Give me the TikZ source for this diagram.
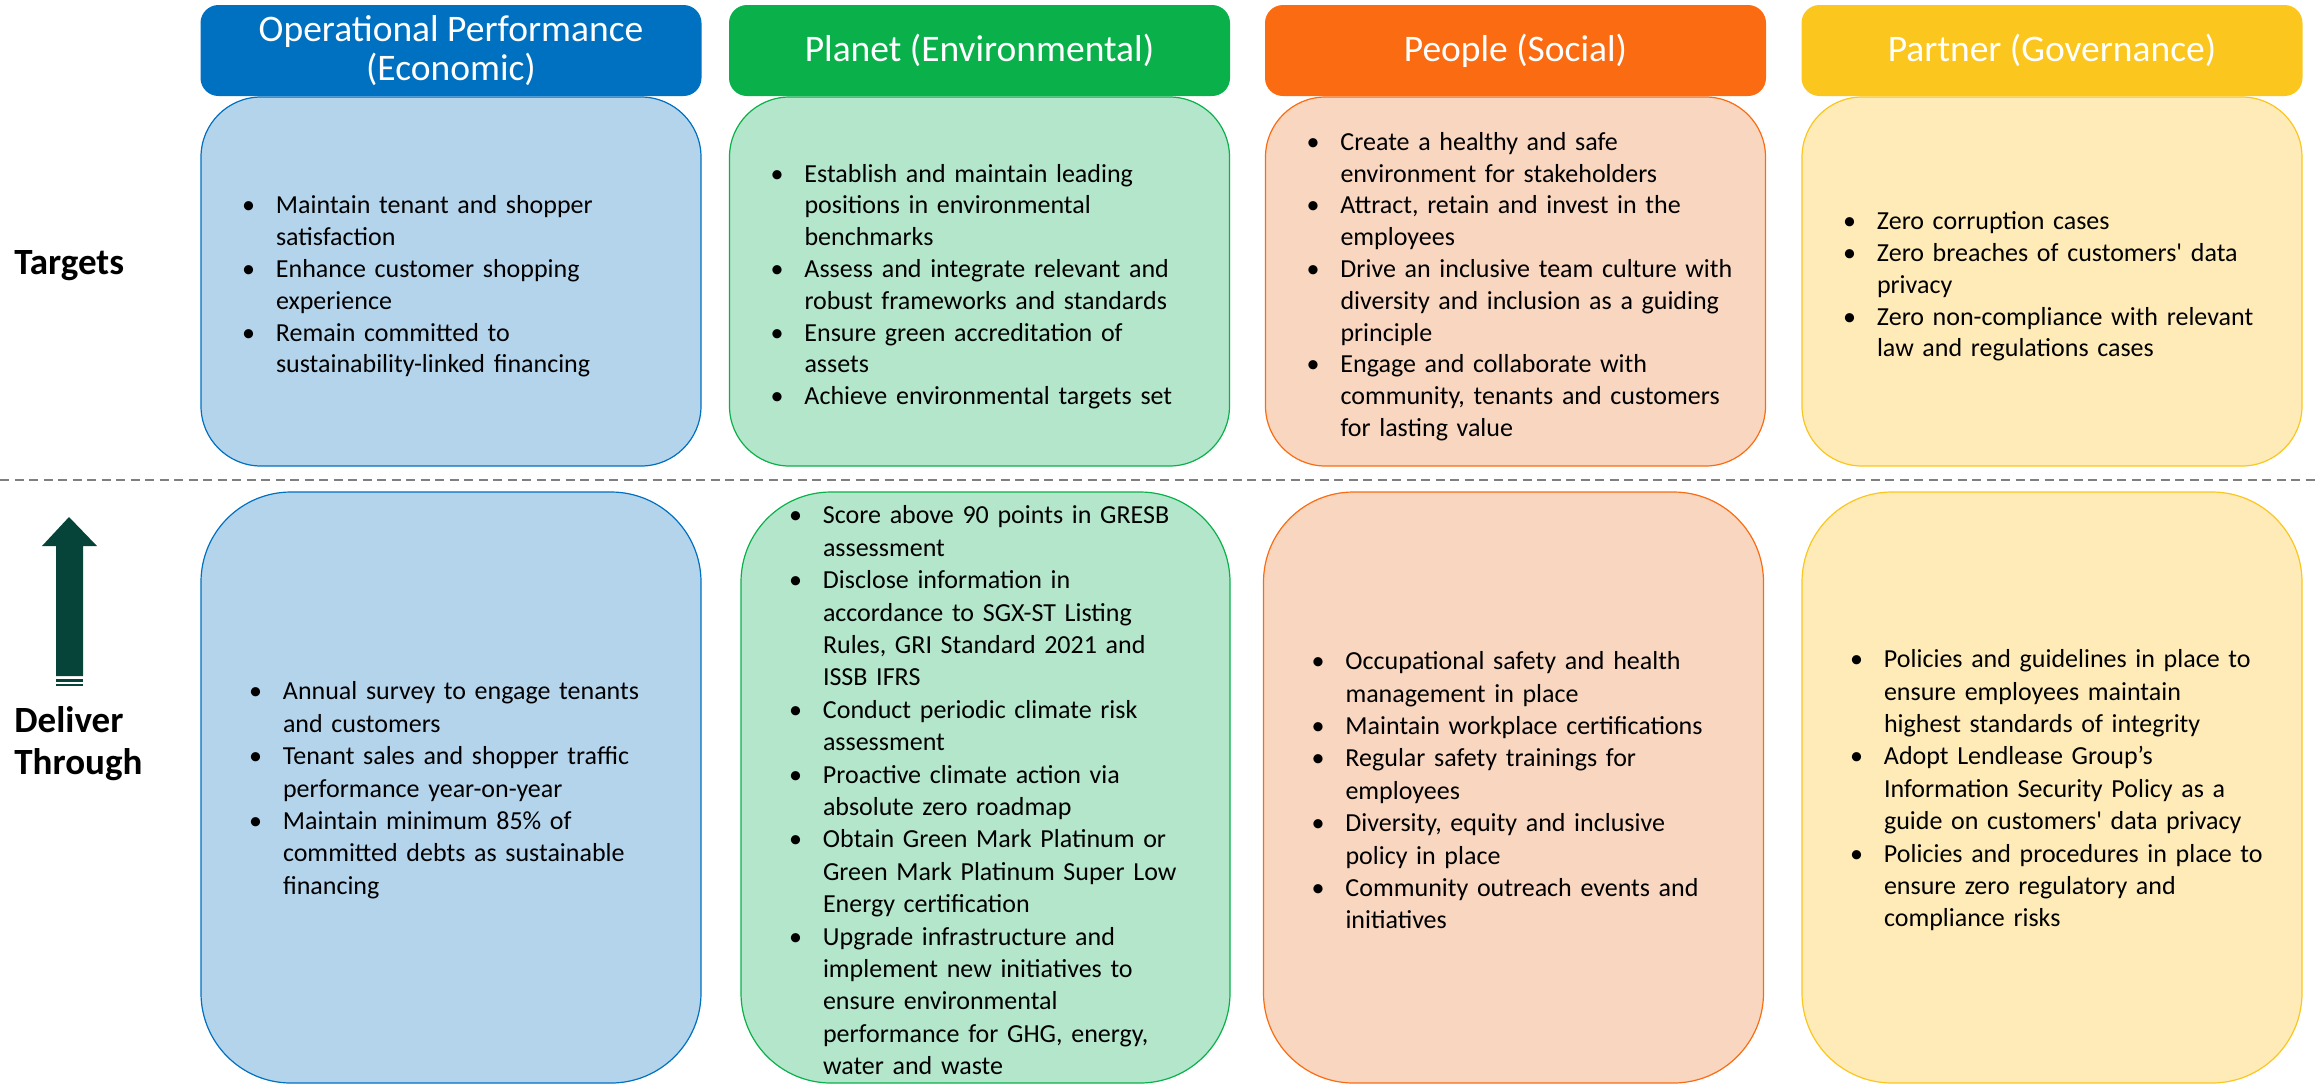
\documentclass[tikz,border=0pt]{standalone}
\usepackage{fontspec}
\setmainfont{Carlito}
\usepackage{tikz}
\usetikzlibrary{positioning}

\definecolor{ecoDark}{HTML}{0070C0}
\definecolor{ecoLight}{HTML}{B4D4EC}
\definecolor{envDark}{HTML}{0AB14B}
\definecolor{envLight}{HTML}{B3E6CB}
\definecolor{socDark}{HTML}{FB6C12}
\definecolor{socLight}{HTML}{F8D6BF}
\definecolor{govDark}{HTML}{FBC61D}
\definecolor{govLight}{HTML}{FEEBB7}
\definecolor{arrowGreen}{HTML}{06443A}
\definecolor{sepGray}{HTML}{7F7F7F}

% one bullet point with hanging indent (lines may run a little into the margin)
\newcommand{\bul}[1]{\hangindent=17pt\hangafter=1\rightskip=0pt plus 1fil minus 30pt%
	\noindent\hbox to 17pt{\textbullet\hss}#1\par}

\begin{document}
\begin{tikzpicture}[x=0.5pt,y=-0.5pt]
			\tikzset{head/.style = {shape=rectangle, rounded corners=9pt,
					minimum width=250.5pt, minimum height=45.5pt, inner sep=0pt,
					text=white, align=center, font=\fontsize{18.75}{19.5}\selectfont}}
			\tikzset{card/.style = {shape=rectangle, rounded corners=30pt,
					line width=0.6pt, minimum width=250pt, minimum height=184.5pt,
					inner sep=0pt, align=left, text width=209pt,
					font=\fontsize{13}{15.9}\selectfont,
					execute at end node={\vspace{-5pt}}}}
			\tikzset{tallcard/.style = {card, rounded corners=45pt,
					minimum height=295.5pt, text width=202pt,
					font=\fontsize{13}{16.2}\selectfont,
					execute at end node={\vspace{2.2pt}}}}
			\tikzset{side/.style = {anchor=west, inner sep=0pt, align=left,
					font=\fontsize{18.5}{21}\selectfont\bfseries}}
			
			\useasboundingbox (0,0) rectangle (2315,1084);
			
			% targets row
			\node[card, fill=ecoLight, draw=ecoDark] (tEco) at (451,281.5) {%
				\bul{Maintain tenant and shopper\newline satisfaction}
				\bul{Enhance customer shopping\newline experience}
				\bul{Remain committed to\newline sustainability-linked financing}};
			\node[card, fill=envLight, draw=envDark] (tEnv) at (979.5,281.5) {%
				\bul{Establish and maintain leading\newline positions in environmental\newline benchmarks}
				\bul{Assess and integrate relevant and\newline robust frameworks and standards}
				\bul{Ensure green accreditation of\newline assets}
				\bul{Achieve environmental targets set}};
			\node[card, fill=socLight, draw=socDark] (tSoc) at (1515.5,281.5) {%
				\bul{Create a healthy and safe\newline environment for stakeholders}
				\bul{Attract, retain and invest in the\newline employees}
				\bul{Drive an inclusive team culture with\newline diversity and inclusion as a guiding\newline principle}
				\bul{Engage and collaborate with\newline community, tenants and customers\newline for lasting value}};
			\node[card, fill=govLight, draw=govDark] (tGov) at (2052,281.5) {%
				\bul{Zero corruption cases}
				\bul{Zero breaches of customers\textquotesingle{} data\newline privacy}
				\bul{Zero non-compliance with relevant\newline law and regulations cases}};
			
			% headers
			\node[head, fill=ecoDark, above=0pt of tEco] (hEco) {Operational Performance\\(Economic)};
			\node[head, fill=envDark, above=0pt of tEnv] (hEnv) {Planet (Environmental)};
			\node[head, fill=socDark, above=0pt of tSoc] (hSoc) {People (Social)};
			\node[head, fill=govDark, above=0pt of tGov] (hGov) {Partner (Governance)};
			
			% separator
			\coordinate (sepL) at (0,480);
			\coordinate (sepR) at (2315,480);
			\draw[sepGray, line width=1.4pt, dash pattern=on 4.5pt off 2.75pt] (sepL) -- (sepR);
			
			% deliver row
			\node[tallcard, fill=ecoLight, draw=ecoDark] (dEco) at (451,787.5) {%
				\bul{Annual survey to engage tenants\newline and customers}
				\bul{Tenant sales and shopper traffic\newline performance year-on-year}
				\bul{Maintain minimum 85\% of\newline committed debts as sustainable\newline financing}};
			\node[tallcard, fill=envLight, draw=envDark, minimum width=244.5pt,
				text width=196.5pt] (dEnv) at (985.5,787.5) {%
				\bul{Score above 90 points in GRESB\newline assessment}
				\bul{Disclose information in\newline accordance to SGX-ST Listing\newline Rules, GRI Standard 2021 and\newline ISSB IFRS}
				\bul{Conduct periodic climate risk\newline assessment}
				\bul{Proactive climate action via\newline absolute zero roadmap}
				\bul{Obtain Green Mark Platinum or\newline Green Mark Platinum Super Low\newline Energy certification}
				\bul{Upgrade infrastructure and\newline implement new initiatives to\newline ensure environmental\newline performance for GHG, energy,\newline water and waste}};
			\node[tallcard, fill=socLight, draw=socDark] (dSoc) at (1513.5,787.5) {%
				\bul{Occupational safety and health\newline management in place}
				\bul{Maintain workplace certifications}
				\bul{Regular safety trainings for\newline employees}
				\bul{Diversity, equity and inclusive\newline policy in place}
				\bul{Community outreach events and\newline initiatives}};
			\node[tallcard, fill=govLight, draw=govDark] (dGov) at (2052,787.5) {%
				\bul{Policies and guidelines in place to\newline ensure employees maintain\newline highest standards of integrity}
				\bul{Adopt Lendlease Group’s\newline Information Security Policy as a\newline guide on customers\textquotesingle{} data privacy}
				\bul{Policies and procedures in place to\newline ensure zero regulatory and\newline compliance risks}};
			
			% row labels
			\node[side] (lblT) at (14,266) {Targets};
			\node[side] (lblD) at (14,744) {Deliver\\Through};
			
			% up arrow
			\fill[arrowGreen] (56,676) -- (56,546) -- (42,546) -- (69,517)
				-- (97,546) -- (83,546) -- (83,676) -- cycle;
			\fill[arrowGreen] (56,679) rectangle (83,682);
			\fill[arrowGreen] (56,684) rectangle (83,685.5);
			
\end{tikzpicture}
\end{document}
